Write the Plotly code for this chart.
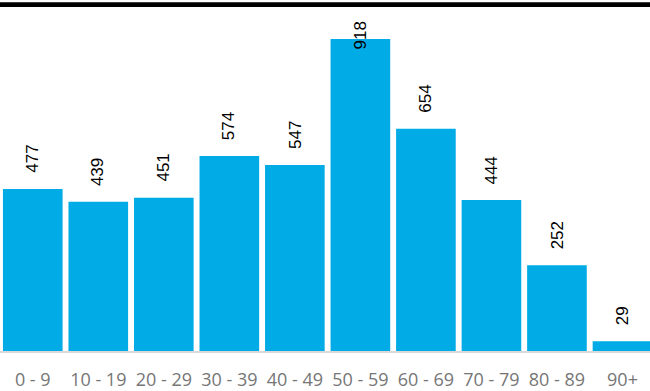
import plotly.graph_objects as go

categories = ["0-9", "10-19", "20-29", "30-39", "40-49", "50-59", "60-69", "70-79", "80-89", "90+"]
tick_labels = ["0 - 9", "10 - 19", "20 - 29", "30 - 39", "40 - 49", "50 - 59", "60 - 69", "70 - 79", "80 - 89", "90+"]
values = [477, 439, 451, 574, 547, 918, 654, 444, 252, 29]

W, H = 650, 391
T, B = 19, 37
plot_h = H - T - B
y_max = 977
label_shift = 14
label_len = 30

fig = go.Figure()
fig.add_trace(go.Bar(
    x=categories, y=values,
    marker=dict(color="#00ABE6", line=dict(width=0)),
    hoverinfo="x+y",
))

units_per_px = y_max / plot_h
annotations = []
for c, v in zip(categories, values):
    if v + (label_shift + label_len) * units_per_px > y_max:
        annotations.append(dict(x=c, y=1, yref="paper", xref="x", text=str(v),
                                textangle=-90, showarrow=False, yanchor="top",
                                font=dict(family="Liberation Sans, Arial", size=17, color="#000")))
    else:
        annotations.append(dict(x=c, y=v, xref="x", yref="y", text=str(v),
                                textangle=-90, showarrow=False, yanchor="bottom",
                                yshift=label_shift,
                                font=dict(family="Liberation Sans, Arial", size=17, color="#000")))

fig.update_layout(
    width=W, height=H,
    margin=dict(l=0, r=0, t=T, b=B),
    paper_bgcolor="white", plot_bgcolor="white",
    bargap=0.09,
    showlegend=False,
    annotations=annotations,
    xaxis=dict(
        type="category",
        tickmode="array", tickvals=categories, ticktext=tick_labels,
        range=[-0.5, 9.42],
        showgrid=False, zeroline=False,
        showline=True, linecolor="#D9D9D9", linewidth=2,
        ticks="", ticklabelstandoff=11,
        tickfont=dict(family="Open Sans", size=18, color="#767676"),
    ),
    yaxis=dict(range=[0, y_max], visible=False, showgrid=False, zeroline=False),
    shapes=[dict(type="rect", xref="paper", yref="paper", x0=0, x1=1,
                 y0=1 + (T - 7) / plot_h, y1=1 + (T - 2) / plot_h,
                 fillcolor="black", line=dict(width=0), layer="above")],
)

fig.write_html("out.html", config={"displayModeBar": False},
               post_script="document.body.style.margin='0';document.body.style.overflow='hidden';")
